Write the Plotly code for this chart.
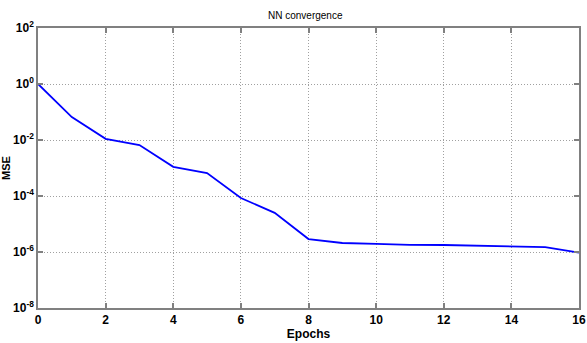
import plotly.graph_objects as go

epochs = list(range(17))
mse = [1.0, 0.066, 0.011, 0.0066, 0.0011, 0.00066, 8.5e-5, 2.5e-5,
       2.9e-6, 2.1e-6, 1.95e-6, 1.8e-6, 1.78e-6, 1.65e-6, 1.6e-6, 1.5e-6, 9.5e-7]

x_ticks = [0, 2, 4, 6, 8, 10, 12, 14, 16]
y_ticks = [1e2, 1e0, 1e-2, 1e-4, 1e-6, 1e-8]
y_ticktext = ["<b>10<sup>2</sup></b>", "<b>10<sup>0</sup></b>", "<b>10<sup>-2</sup></b>",
              "<b>10<sup>-4</sup></b>", "<b>10<sup>-6</sup></b>", "<b>10<sup>-8</sup></b>"]

FONT = "Liberation Sans Narrow, Liberation Sans, Arial"

fig = go.Figure()
fig.add_trace(go.Scatter(x=epochs, y=mse, mode="lines",
                         line=dict(color="#0000ff", width=1.8)))

axis_common = dict(
    showline=True, linecolor="#808080", linewidth=1.5, mirror="allticks",
    ticks="inside", ticklen=5, tickcolor="#808080", tickwidth=1.5,
    showgrid=True, gridcolor="#a0a0a0", griddash="1px,2px", gridwidth=1,
    zeroline=False, automargin=False,
)

fig.update_layout(
    width=587, height=343,
    margin=dict(l=38, r=8, t=28, b=35),
    paper_bgcolor="white", plot_bgcolor="white",
    showlegend=False,
    font=dict(family=FONT, color="black", size=12),
    title=dict(text="NN convergence", x=0.52, xanchor="center", y=0.955, yanchor="middle",
               font=dict(family=FONT, size=10, color="black")),
    xaxis=dict(range=[0, 16], tickvals=x_ticks,
               ticktext=[f"<b>{v}</b>" for v in x_ticks],
               title=dict(text="<b>Epochs</b>", standoff=1, font=dict(size=12)),
               **axis_common),
    yaxis=dict(type="log", range=[-8, 2], tickvals=y_ticks, ticktext=y_ticktext,
               title=dict(text="<b>MSE</b>", standoff=3, font=dict(size=11)),
               **axis_common),
)

fig.write_html("out.html")
